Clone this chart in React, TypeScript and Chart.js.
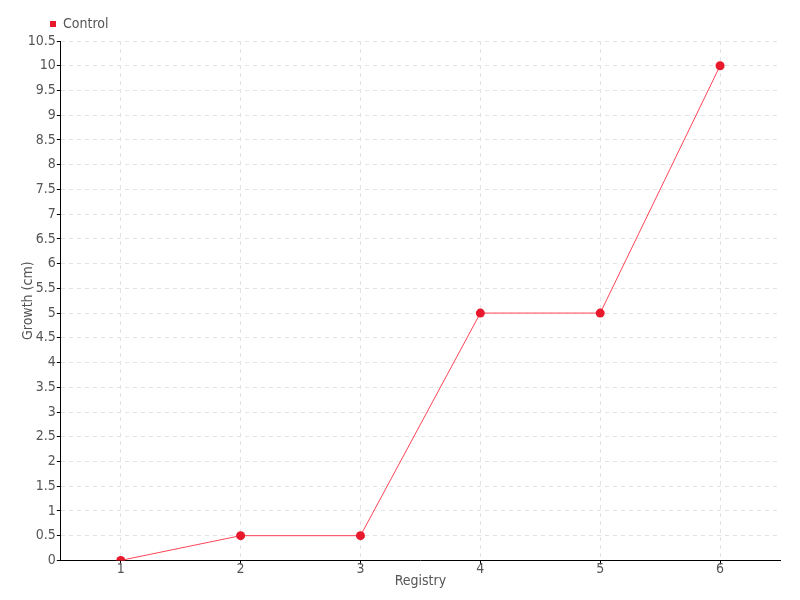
import React, { useEffect, useRef } from "react";
import { Chart, registerables } from "chart.js";

Chart.register(...registerables);

const categories = ["1", "2", "3", "4", "5", "6"];
const controlValues = [0, 0.5, 0.5, 5, 5, 10];
const seriesLabel = "Control";
const xTitle = "Registry";
const yTitle = "Growth (cm)";

const FONT = "'DejaVu Sans Condensed', 'DejaVu Sans', sans-serif";

export default function App() {
  const ref = useRef<HTMLCanvasElement | null>(null);
  useEffect(() => {
    document.body.style.margin = "0";
    const ctx = ref.current!;
    const chart = new Chart(ctx, {
      type: "line",
      data: {
        labels: categories,
        datasets: [
          {
            label: seriesLabel,
            data: controlValues,
            borderColor: "#ff4455",
            backgroundColor: "#e8192c",
            pointBackgroundColor: "#e8192c",
            pointBorderColor: "#e8192c",
            borderWidth: 1,
            pointRadius: 4.5,
            pointBorderWidth: 0,
            pointStyle: "circle",
            tension: 0,
          },
        ],
      },
      options: {
        animation: false,
        responsive: false,
        maintainAspectRatio: false,
        layout: { padding: { left: 10, right: 20, top: 0, bottom: 10 } },
        plugins: {
          legend: {
            display: true,
            position: "top",
            align: "start",
            labels: {
              usePointStyle: true,
              pointStyle: "rect",
              boxWidth: 6,
              boxHeight: 6,
              padding: 17,
              color: "#555",
              font: { family: FONT, size: 14 },
            },
          },
          tooltip: { enabled: false },
        },
        scales: {
          x: {
            offset: true,
            grid: {
              offset: false,
              color: "#e3e3e3",
              tickColor: "#000",
              tickLength: 4,
              drawOnChartArea: true,
            },
            border: { color: "#000", width: 1, dash: [4, 4] },
            ticks: { color: "#555", font: { family: FONT, size: 14 }, padding: -3 },
            title: {
              display: true,
              text: xTitle,
              color: "#555",
              font: { family: FONT, size: 14 },
              padding: { top: -2, bottom: 0 },
            },
          },
          y: {
            min: 0,
            max: 10.5,
            ticks: {
              stepSize: 0.5,
              color: "#555",
              font: { family: FONT, size: 14 },
              padding: 1,
              callback: (v: any) => String(Math.round(Number(v) * 10) / 10),
            },
            grid: {
              color: "#e3e3e3",
              tickColor: "#000",
              tickLength: 4,
            },
            border: { color: "#000", width: 1, dash: [4, 4] },
            title: {
              display: true,
              text: yTitle,
              color: "#555",
              font: { family: FONT, size: 14 },
              padding: { top: 10, bottom: -10 },
            },
          },
        },
      },
      plugins: [
        {
          id: "legendShift",
          afterLayout(c: any) {
            if (c.legend) c.legend.left += 23;
          },
        },
      ],
    } as any);
    return () => chart.destroy();
  }, []);
  return (
    <div style={{ position: "absolute", left: 0, top: 0, width: 800, height: 600 }}>
      <canvas ref={ref} width={800} height={600} style={{ width: 800, height: 600 }} />
    </div>
  );
}
